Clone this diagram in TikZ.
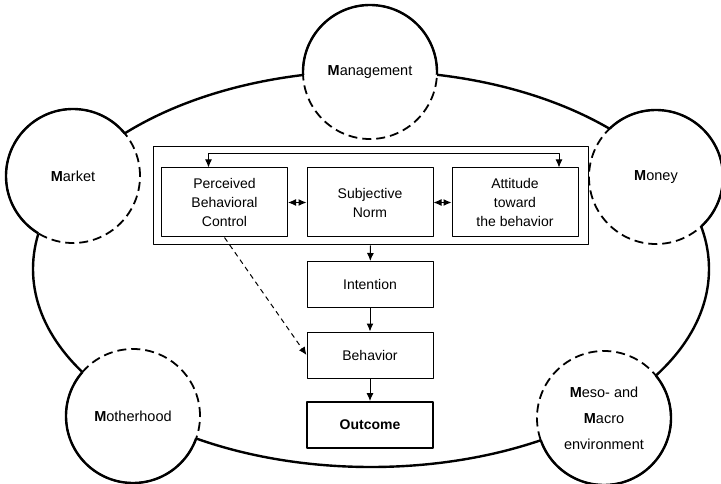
\documentclass[tikz,border=0pt]{standalone}
\usepackage{fontspec}
\setmainfont{Liberation Sans}
\usetikzlibrary{arrows.meta}
\tikzset{
  place/.style={circle, fill=white, minimum size=134pt, inner sep=0pt, align=center,
    font=\fontsize{14.5}{26}\selectfont},
  ring/.style={line width=2.4pt},
  dashring/.style={line width=1.8pt, dash pattern=on 9pt off 5pt},
  tbox/.style={draw, line width=1pt, minimum width=126pt, align=center,
    font=\fontsize{14}{19}\selectfont},
  big/.style={tbox, minimum height=69pt},
  small/.style={tbox, minimum height=46pt},
  link/.style={line width=1pt},
}
\begin{document}
\begin{tikzpicture}[x=1pt, y=-1pt, line join=round, >={Latex[length=8pt,width=7pt]}]
	\useasboundingbox (0,0) rectangle (721,484);
	\def\cx{371} \def\cy{269} \def\rx{338pt} \def\ry{198pt}
	\draw[ring](\cx,\cy) ellipse[x radius=\rx, y radius=\ry];
	% theory of planned behavior
	\node[draw, line width=1pt, minimum width=435pt, minimum height=98pt] (tpb) at (370.5,196) {};
	\node[big] (pbc) at (224.5,202.5) {Perceived\\Behavioral\\Control};
	\node[big] (sn) at (370,202.5) {Subjective\\Norm};
	\node[big] (att) at (515,202.5) {Attitude\\toward\\the behavior};
	\node[small] (int) at (370,284.5) {Intention};
	\node[small] (beh) at (370,355) {Behavior};
	\node[small, line width=1.8pt, font=\fontsize{14}{19}\selectfont\bfseries] (out) at (370,425) {Outcome};
	\draw[<->, link] ([xshift=-16pt]pbc.north) -- ++(0,-14) -| ([xshift=44pt]att.north);
	\draw[<->, link] (pbc) -- (sn);
	\draw[<->, link] (sn) -- (att);
	\draw[->, link] (tpb.south) -- (int);
	\draw[->, link] (int) -- (beh);
	\draw[->, link] (beh) -- (out);
	\draw[->, link, dash pattern=on 5pt off 4pt] (pbc.south) -- (beh.west);
	% the five M
	\node[place] (mgmt) at (370,72) {\textbf{M}anagement};
	\node[place] (market) at (73,176) {\textbf{M}arket};
	\node[place] (money) at (656,177) {\textbf{M}oney};
	\node[place] (mother) at (133,416) {\textbf{M}otherhood};
	\node[place] (meso) at (604,418) {\textbf{M}eso- and\\\textbf{M}acro\\environment};
	\foreach \n in {mgmt,market,money,mother,meso}
		\draw[dashring] (\n.center) circle[radius=67pt];
	\begin{scope}[even odd rule]
	\clip (-20,-20) rectangle (741,504) (\cx,\cy) ellipse[x radius=\rx, y radius=\ry];
	\foreach \n in {mgmt,market,money,mother,meso}
		\draw[ring] (\n.center) circle[radius=67pt];
	\end{scope}
\end{tikzpicture}
\end{document}
